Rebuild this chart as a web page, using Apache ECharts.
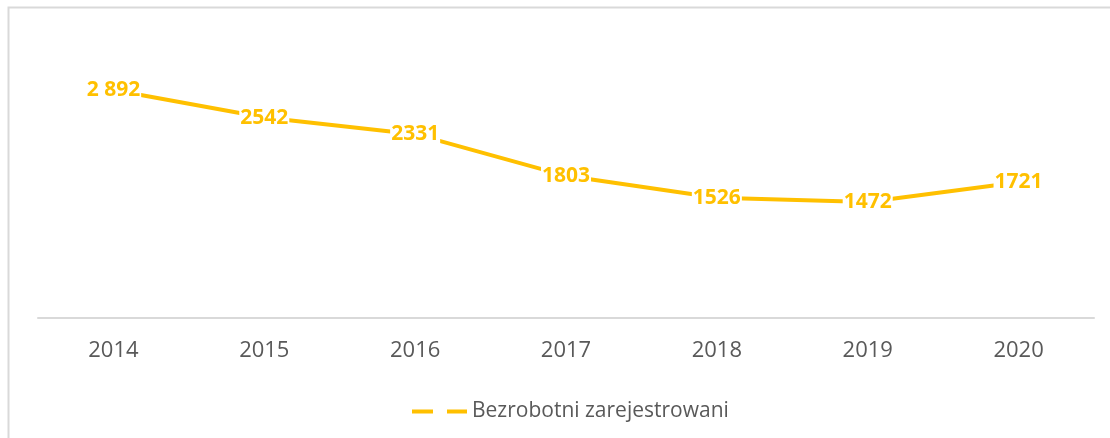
<!DOCTYPE html>
<html>
<head>
<meta charset="utf-8">
<script src="https://cdn.jsdelivr.net/npm/echarts@6/dist/echarts.min.js"></script>
<style>
  html, body { margin: 0; padding: 0; background: #fff; }
  #lineChart { width: 1110px; height: 438px; }
</style>
</head>
<body>
<div id="lineChart"></div>
<script>
  // dane: bezrobotni zarejestrowani
  const years = ['2014', '2015', '2016', '2017', '2018', '2019', '2020'];
  const unemployed = [2892, 2542, 2331, 1803, 1526, 1472, 1721];
  const pointLabels = ['2 892', '2542', '2331', '1803', '1526', '1472', '1721'];

  const lineColor = '#FFC000';
  const textColor = '#595959';

  const myChart = echarts.init(document.getElementById('lineChart'));
  const option = {
    animation: false,
    textStyle: { fontFamily: 'Open Sans' },
    graphic: [{
      type: 'polyline',
      shape: { points: [[8.5, 440], [8.5, 7.5], [1112, 7.5]] },
      style: { fill: null, stroke: '#d9d9d9', lineWidth: 2 },
      silent: true
    }],
    grid: {
      left: 38,
      right: 16,
      top: 42,
      bottom: 120
    },
    legend: {
      left: 407,
      top: 396,
      itemWidth: 55,
      itemHeight: 4,
      itemGap: 5,
      icon: 'path://M0,0h21v4h-21z M35,0h20v4h-20z',
      textStyle: { color: textColor, fontSize: 21, fontFamily: 'Open Sans' },
      data: ['Bezrobotni zarejestrowani']
    },
    xAxis: {
      type: 'category',
      data: years,
      boundaryGap: true,
      axisLine: { lineStyle: { color: '#d9d9d9', width: 2 } },
      axisTick: { show: false },
      axisLabel: {
        color: textColor,
        fontSize: 22,
        margin: 22
      }
    },
    yAxis: {
      type: 'value',
      min: 0,
      max: 3500,
      show: false,
      splitLine: { show: false }
    },
    series: [{
      name: 'Bezrobotni zarejestrowani',
      type: 'line',
      data: unemployed,
      color: lineColor,
      showSymbol: true,
      symbol: 'circle',
      symbolSize: 1,
      itemStyle: { color: lineColor },
      lineStyle: { width: 4, color: lineColor },
      label: {
        show: true,
        position: 'inside',
        color: lineColor,
        fontWeight: 'bold',
        fontSize: 21,
        fontFamily: 'Open Sans',
        backgroundColor: '#fff',
        padding: [0, 1],
        formatter(p) {
          return pointLabels[p.dataIndex];
        }
      }
    }]
  };
  myChart.setOption(option);
</script>
</body>
</html>
